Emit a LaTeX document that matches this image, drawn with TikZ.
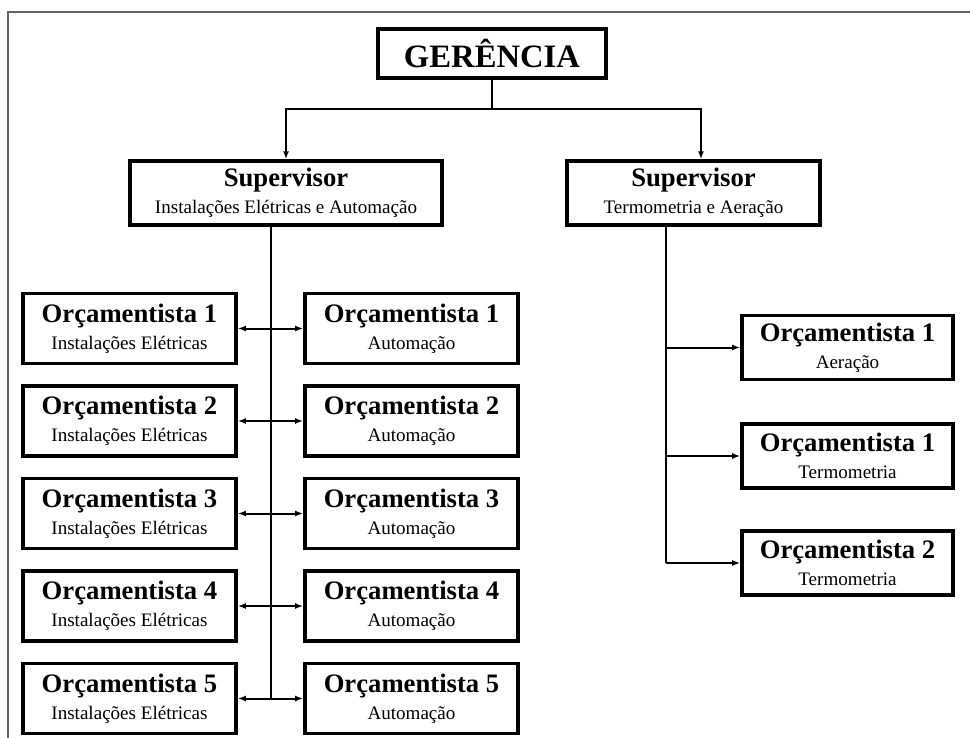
\documentclass[tikz,border=0pt]{standalone}
\usepackage{fontspec}
\setmainfont{Liberation Serif}
\usepackage{tikz}
\usetikzlibrary{arrows.meta}
\definecolor{moldura}{RGB}{100,100,100}
\newcommand{\fonttit}{\fontsize{20}{20}\selectfont\bfseries}
\newcommand{\fontsub}{\fontsize{14.3}{20}\selectfont}
\tikzset{
  caixa/.style={draw, line width=2.6pt, align=center, inner sep=0pt, font=\fontsub},
  orc/.style={caixa, minimum width=160pt, minimum height=52.5pt},
  orcdir/.style={caixa, minimum width=158.5pt, minimum height=48pt},
  liga/.style={line width=1.5pt}
}

\begin{document}
\begin{tikzpicture}[x=0.75pt, y=-0.75pt, >={Latex[length=6pt,width=4.5pt]}]
    \useasboundingbox (0,0) rectangle (970,738);
    % moldura
    \draw[moldura, line width=1.6pt] (8,739) -- (8,12) -- (971,12);
    % gerencia e supervisores
    \node[caixa, minimum width=171pt, minimum height=37pt, font=\fontsize{24.5}{28}\selectfont\bfseries] (ger) at (492,53.5){GERÊNCIA};
    \node[caixa, minimum width=234pt, minimum height=48pt] (supIE) at (286,193){{\fonttit Supervisor}\\Instalações Elétricas e Automação};
    \node[caixa, minimum width=190pt, minimum height=48pt] (supTA) at (693.5,193){{\fonttit Supervisor}\\Termometria e Aeração};
    \coordinate (div) at (492,109);
    \draw[liga] (ger.south) -- (div);
    \draw[liga,->] (div) -| (supIE.north);
    \draw[liga,->] (div) -| ([xshift=5.6pt]supTA.north);
    % instalacoes eletricas
    \node[orc] (orcIE1) at (129.5,328.5){{\fonttit Orçamentista 1}\\Instalações Elétricas};
    \node[orc] (orcIE2) at (129.5,421){{\fonttit Orçamentista 2}\\Instalações Elétricas};
    \node[orc] (orcIE3) at (129.5,513.5){{\fonttit Orçamentista 3}\\Instalações Elétricas};
    \node[orc] (orcIE4) at (129.5,606){{\fonttit Orçamentista 4}\\Instalações Elétricas};
    \node[orc] (orcIE5) at (129.5,698.5){{\fonttit Orçamentista 5}\\Instalações Elétricas};
    % automacao
    \node[orc] (orcAU1) at (411.5,328.5){{\fonttit Orçamentista 1}\\Automação};
    \node[orc] (orcAU2) at (411.5,421){{\fonttit Orçamentista 2}\\Automação};
    \node[orc] (orcAU3) at (411.5,513.5){{\fonttit Orçamentista 3}\\Automação};
    \node[orc] (orcAU4) at (411.5,606){{\fonttit Orçamentista 4}\\Automação};
    \node[orc] (orcAU5) at (411.5,698.5){{\fonttit Orçamentista 5}\\Automação};
    \coordinate (eixoIE) at (271,0);
    \draw[liga] (supIE.south -| eixoIE) -- (eixoIE |- orcIE5.east);
    \draw[liga,<->] (orcIE1) -- (orcAU1);
    \draw[liga,<->] (orcIE2) -- (orcAU2);
    \draw[liga,<->] (orcIE3) -- (orcAU3);
    \draw[liga,<->] (orcIE4) -- (orcAU4);
    \draw[liga,<->] (orcIE5) -- (orcAU5);
    % termometria e aeracao
    \node[orcdir] (orcAE1) at (847.5,347.5){{\fonttit Orçamentista 1}\\Aeração};
    \node[orcdir] (orcTE1) at (847.5,456){{\fonttit Orçamentista 1}\\Termometria};
    \node[orcdir] (orcTE2) at (847.5,563){{\fonttit Orçamentista 2}\\Termometria};
    \coordinate (eixoTA) at (666,0);
    \draw[liga] (supTA.south -| eixoTA) -- (eixoTA |- orcTE2.west);
    \draw[liga,->] (eixoTA |- orcAE1.west) -- (orcAE1.west);
    \draw[liga,->] (eixoTA |- orcTE1.west) -- (orcTE1.west);
    \draw[liga,->] (eixoTA |- orcTE2.west) -- (orcTE2.west);
\end{tikzpicture}
\end{document}
